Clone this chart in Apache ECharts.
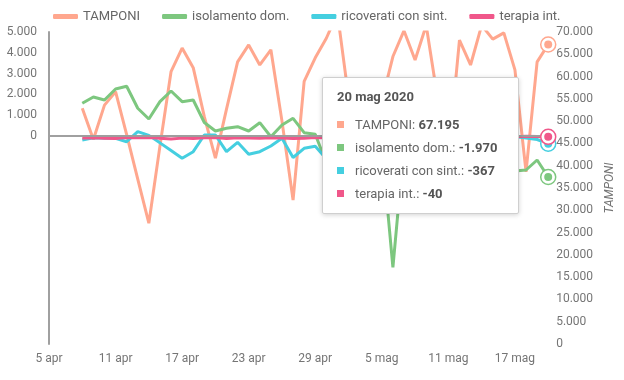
<!DOCTYPE html>
<html>
<head>
<meta charset="utf-8">
<script src="https://cdn.jsdelivr.net/npm/echarts@6/dist/echarts.min.js"></script>
<style>
html,body{margin:0;padding:0;background:#fff;}
#chart{width:624px;height:380px;}
</style>
</head>
<body>
<div id="chart"></div>
<script>
const categories = ['5 apr','6 apr','7 apr','8 apr','9 apr','10 apr','11 apr','12 apr','13 apr','14 apr','15 apr','16 apr','17 apr','18 apr','19 apr','20 apr','21 apr','22 apr','23 apr','24 apr','25 apr','26 apr','27 apr','28 apr','29 apr','30 apr','1 mag','2 mag','3 mag','4 mag','5 mag','6 mag','7 mag','8 mag','9 mag','10 mag','11 mag','12 mag','13 mag','14 mag','15 mag','16 mag','17 mag','18 mag','19 mag','20 mag'];

const tamponi = [null,null,null,52900,45900,53600,56600,47000,37000,27100,44400,61100,66400,62000,51000,41700,52700,63300,67100,62600,66000,50000,32300,58900,64200,68600,74200,55400,44900,32000,54500,64500,70300,63700,71500,55600,42000,68200,62600,71500,68400,69800,61500,38600,63300,67195];

const isolamento = [null,null,null,1572,1875,1731,2260,2390,1332,817,1650,2164,1650,1731,649,240,370,447,240,640,-34,529,851,159,82,-1300,-900,-1500,-700,-1100,-480,-6315,-480,-1400,-1100,-900,-1600,-2100,-1800,-1300,-1500,-1200,-1680,-1635,-1154,-1970];

const ricoverati = [null,null,null,-192,-80,-111,-111,-274,207,30,-330,-700,-1073,-755,48,48,-755,-303,-880,-755,-481,-111,-1034,-591,-495,-1100,-800,-400,-300,-700,-900,-500,-700,-600,-500,-300,-400,-800,-500,-600,-400,-300,-24,-96,-168,-367];

const terapia = [null,null,null,-99,-88,-108,-116,-75,-83,-78,-106,-143,-102,-124,-81,-76,-123,-83,-102,-107,-83,-93,-123,-107,-68,-84,-116,-39,-41,-66,-60,-94,-101,-119,-51,-61,-94,-72,-59,-55,-53,-87,-33,-13,-20,-40];

const leftTicks = [-10000, 5000, 1000];
const rightTicks = [0, 70000, 5000];

const seriesNames = ['TAMPONI','isolamento dom.','ricoverati con sint.','terapia int.'];
const seriesData = [tamponi, isolamento, ricoverati, terapia];
const colors = ['#FFA78E','#7DC77F','#45CFE0','#F0578A'];
const year = '2020';

function fmt(v){
  const neg = v < 0;
  let s = String(Math.abs(Math.round(v)));
  s = s.replace(/\B(?=(\d{3})+(?!\d))/g, '.');
  return (neg ? '-' : '') + s;
}

const last = categories.length - 1;

const chart = echarts.init(document.getElementById('chart'), null, {renderer:'canvas'});

const series = seriesData.map((d, i) => {
  const s = {
    name: seriesNames[i],
    type: 'line',
    yAxisIndex: i === 0 ? 1 : 0,
    data: d,
    symbol: 'none',
    connectNulls: false,
    lineStyle: {width: 3, color: colors[i]},
    itemStyle: {color: colors[i]},
    emphasis: {disabled: true},
    animation: false,
    markPoint: {
      silent: true,
      animation: false,
      label: {show: false},
      data: [
        {coord: [categories[last], d[last]], symbol: 'circle', symbolSize: 15,
         itemStyle: {color: '#fff', borderColor: colors[i], borderWidth: 1.5}},
        {coord: [categories[last], d[last]], symbol: 'circle', symbolSize: 8,
         itemStyle: {color: colors[i]}}
      ]
    }
  };
  if (i === 1) {
    s.markLine = {
      silent: true,
      animation: false,
      symbol: 'none',
      label: {show: false},
      lineStyle: {color: '#9e9e9e', width: 2, type: 'solid'},
      data: [[{coord: [categories[3], 0]}, {coord: [categories[last], 0]}]]
    };
  }
  return s;
});

const option = {
  backgroundColor: '#fff',
  animation: false,
  legend: {
    top: 5,
    left: 48,
    itemWidth: 25,
    itemHeight: 5,
    itemGap: 22,
    icon: 'roundRect',
    textStyle: {fontFamily: 'Roboto', fontSize: 13, color: '#666'},
    data: seriesNames
  },
  grid: {left: 49, right: 72, top: 32, bottom: 36},
  tooltip: {
    trigger: 'axis',
    triggerOn: 'none',
    alwaysShowContent: true,
    axisPointer: {type: 'none'},
    position: function(){ return [322, 77]; },
    backgroundColor: '#fff',
    borderColor: '#cfcfcf',
    borderWidth: 1,
    padding: [10, 14],
    extraCssText: 'width:167px;box-shadow:0 1px 5px rgba(0,0,0,0.18);border-radius:2px;',
    formatter: function(params){
      const idx = params[0].dataIndex;
      let h = '<div style="font-family:Roboto;font-weight:bold;font-size:13px;line-height:18px;color:#555;">' + categories[idx] + ' ' + year + '</div>';
      seriesNames.forEach((n, i) => {
        h += '<div style="font-family:Roboto;font-size:13px;line-height:18px;color:#666;margin-top:' + (i === 0 ? 10 : 5) + 'px;white-space:nowrap;">' +
          '<span style="display:inline-block;width:7px;height:7px;background:' + colors[i] + ';margin-right:11px;vertical-align:1px;"></span>' +
          n + ': <b style="color:#555;">' + fmt(seriesData[i][idx]) + '</b></div>';
      });
      return h;
    }
  },
  xAxis: {
    type: 'category',
    data: categories,
    boundaryGap: false,
    axisLine: {show: true, lineStyle: {color: '#a0a0a0', width: 2}},
    axisTick: {show: false},
    axisLabel: {interval: 5, fontFamily: 'Roboto', fontSize: 12, color: '#757575', margin: 9},
    splitLine: {show: false}
  },
  yAxis: [
    {
      type: 'value',
      min: leftTicks[0],
      max: leftTicks[1],
      interval: leftTicks[2],
      axisLine: {show: true, lineStyle: {color: '#a0a0a0', width: 2}},
      axisTick: {show: false},
      splitLine: {show: false},
      axisLabel: {
        fontFamily: 'Roboto', fontSize: 12, color: '#757575', margin: 12,
        formatter: function(v){ return v < 0 ? '' : fmt(v); }
      }
    },
    {
      type: 'value',
      min: rightTicks[0],
      max: rightTicks[1],
      interval: rightTicks[2],
      position: 'right',
      name: 'TAMPONI',
      nameLocation: 'middle',
      nameRotate: 90,
      nameGap: 55,
      nameTextStyle: {fontFamily: 'Roboto', fontSize: 12, fontStyle: 'italic', color: '#757575'},
      axisLine: {show: false},
      axisTick: {show: false},
      splitLine: {show: false},
      axisLabel: {fontFamily: 'Roboto', fontSize: 12, color: '#757575', margin: 8, formatter: function(v){ return fmt(v); }}
    }
  ],
  series: series
};

chart.setOption(option);
chart.dispatchAction({type: 'showTip', seriesIndex: 0, dataIndex: last});
</script>
</body>
</html>
